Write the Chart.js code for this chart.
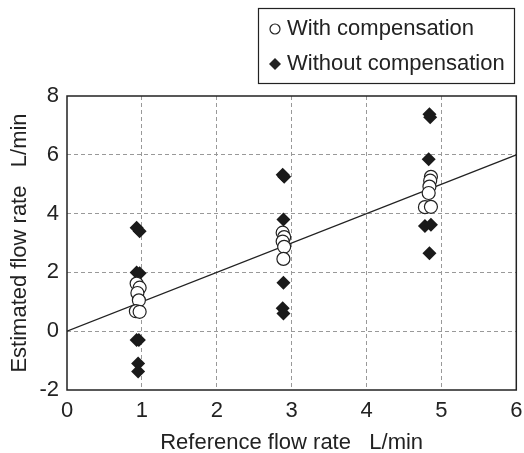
<!DOCTYPE html>
<html>
<head>
<meta charset="utf-8">
<script src="https://cdn.jsdelivr.net/npm/chart.js@4"></script>
<style>
  html, body { margin: 0; padding: 0; background: #fff; }
  #wrap { width: 524px; height: 453px; }
</style>
</head>
<body>
<div id="wrap"><canvas id="myChart" width="524" height="453"></canvas></div>
<script>
// Values
const withComp = [
    {x: 0.93, y: 1.62}, {x: 0.97, y: 1.48}, {x: 0.94, y: 1.3}, {x: 0.96, y: 1.05},
    {x: 0.92, y: 0.68}, {x: 0.97, y: 0.66},
    {x: 2.88, y: 3.35}, {x: 2.9, y: 3.2}, {x: 2.88, y: 3.05}, {x: 2.9, y: 2.87}, {x: 2.89, y: 2.46},
    {x: 4.86, y: 5.25}, {x: 4.85, y: 5.12}, {x: 4.84, y: 4.92}, {x: 4.83, y: 4.7},
    {x: 4.78, y: 4.22}, {x: 4.86, y: 4.23}
];
const withoutComp = [
    {x: 0.93, y: 3.52}, {x: 0.97, y: 3.4}, {x: 0.93, y: 2.0}, {x: 0.97, y: 1.97},
    {x: 0.93, y: -0.3}, {x: 0.96, y: -0.3}, {x: 0.95, y: -1.1}, {x: 0.95, y: -1.37},
    {x: 2.88, y: 5.32}, {x: 2.9, y: 5.25}, {x: 2.89, y: 3.8}, {x: 2.89, y: 1.65},
    {x: 2.88, y: 0.78}, {x: 2.89, y: 0.6},
    {x: 4.84, y: 7.38}, {x: 4.85, y: 7.28}, {x: 4.83, y: 5.85},
    {x: 4.78, y: 3.58}, {x: 4.86, y: 3.62}, {x: 4.84, y: 2.65}
];
const idealLine = [{x: 0, y: 0}, {x: 6, y: 6}];
const xTicks = [0, 1, 2, 3, 4, 5, 6];
const yTicks = [-2, 0, 2, 4, 6, 8];

const font = 'Arial, "Liberation Sans", sans-serif';

// draws the box round the plot area and the legend in the top right corner
const framePlugin = {
    id: 'frame',
    afterDraw(chart) {
        const ctx = chart.ctx;
        const a = chart.chartArea;
        ctx.save();
        ctx.strokeStyle = '#222';
        ctx.lineWidth = 1.5;
        ctx.strokeRect(a.left, a.top, a.right - a.left, a.bottom - a.top);

        // legend
        ctx.lineWidth = 1.2;
        ctx.strokeRect(258.5, 8.5, 256, 75);
        ctx.font = '22px ' + font;
        ctx.fillStyle = '#222';
        ctx.textBaseline = 'middle';
        ctx.fillText(chart.data.datasets[0].label, 287, 29);
        ctx.fillText(chart.data.datasets[1].label, 287, 64);
        ctx.beginPath();
        ctx.arc(275, 29, 5, 0, Math.PI * 2);
        ctx.fillStyle = '#fff';
        ctx.fill();
        ctx.lineWidth = 1.2;
        ctx.stroke();
        ctx.beginPath();
        ctx.moveTo(275, 58); ctx.lineTo(281, 64); ctx.lineTo(275, 70); ctx.lineTo(269, 64);
        ctx.closePath();
        ctx.fillStyle = '#222';
        ctx.fill();
        ctx.restore();
    }
};

const ctx = document.getElementById('myChart').getContext('2d');
new Chart(ctx, {
    type: 'scatter',
    data: {
        datasets: [
            {
                label: 'With compensation',
                data: withComp,
                pointStyle: 'circle',
                pointRadius: 6.5,
                pointBackgroundColor: '#fff',
                pointBorderColor: '#222',
                pointBorderWidth: 1.2,
                order: 1
            },
            {
                label: 'Without compensation',
                data: withoutComp,
                pointStyle: 'rectRot',
                pointRadius: 7,
                pointBackgroundColor: '#1a1a1a',
                pointBorderColor: '#1a1a1a',
                pointBorderWidth: 0,
                order: 2
            },
            {
                label: 'y = x',
                type: 'line',
                data: idealLine,
                borderColor: '#222',
                borderWidth: 1.3,
                pointRadius: 0,
                order: 3
            }
        ]
    },
    options: {
        responsive: false,
        animation: false,
        layout: { padding: { top: 96, right: 7, left: 0, bottom: 0 } },
        plugins: {
            legend: { display: false },
            tooltip: { enabled: false }
        },
        scales: {
            x: {
                type: 'linear',
                min: 0,
                max: 6,
                afterBuildTicks: s => { s.ticks = xTicks.map(v => ({ value: v })); },
                afterFit: s => { s.height = 63; s.paddingRight = 0; s.paddingLeft = 0; },
                border: { display: false, dash: [4, 3] },
                grid: {
                    color: c => (c.tick.value === 0 || c.tick.value === 6) ? 'rgba(0,0,0,0)' : '#999',
                    lineWidth: 1,
                    drawTicks: false
                },
                ticks: {
                    padding: 8,
                    color: '#222',
                    font: { family: font, size: 22 }
                },
                title: {
                    display: true,
                    text: 'Reference flow rate   L/min',
                    color: '#222',
                    padding: { top: 6, bottom: -3 },
                    font: { family: font, size: 22 }
                }
            },
            y: {
                min: -2,
                max: 8,
                afterBuildTicks: s => { s.ticks = yTicks.map(v => ({ value: v })); },
                afterFit: s => { s.width = 67; },
                border: { display: false, dash: [4, 3] },
                grid: {
                    color: c => (c.tick.value === -2 || c.tick.value === 8) ? 'rgba(0,0,0,0)' : '#999',
                    lineWidth: 1,
                    drawTicks: false
                },
                ticks: {
                    padding: 8,
                    color: '#222',
                    font: { family: font, size: 22 }
                },
                title: {
                    display: true,
                    text: 'Estimated flow rate   L/min',
                    color: '#222',
                    padding: { top: 7, bottom: 0 },
                    font: { family: font, size: 22 }
                }
            }
        }
    },
    plugins: [framePlugin]
});
</script>
</body>
</html>
